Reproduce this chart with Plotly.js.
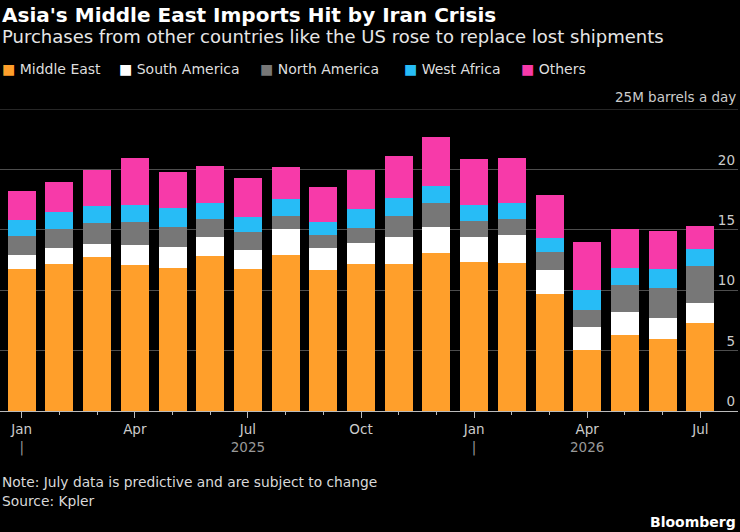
<!DOCTYPE html>
<html>
<head>
<meta charset="utf-8">
<script src="https://cdn.plot.ly/plotly-3.0.1.min.js"></script>
<style>
  html, body { margin: 0; padding: 0; background: #000; }
  #chart { width: 740px; height: 532px; }
</style>
</head>
<body>
<div id="chart"></div>
<script>
// Monthly crude imports into Asia by origin, million barrels a day
const months = ["2025-01","2025-02","2025-03","2025-04","2025-05","2025-06","2025-07","2025-08","2025-09","2025-10","2025-11","2025-12",
                "2026-01","2026-02","2026-03","2026-04","2026-05","2026-06","2026-07"];
const middleEast   = [11.74,12.15,12.73,12.07,11.85,12.84,11.74,12.92,11.68,12.15,12.18,13.09,12.37,12.24,9.67,5.08,6.32,5.94,7.27];
const southAmerica = [1.16,1.35,1.13,1.71,1.71,1.55,1.62,2.13,1.82,1.77,2.24,2.18,2.05,2.29,2.01,1.85,1.86,1.79,1.68];
const northAmerica = [1.60,1.58,1.72,1.88,1.68,1.52,1.47,1.13,1.11,1.27,1.74,1.96,1.35,1.38,1.47,1.41,2.23,2.44,3.09];
const westAfrica   = [1.35,1.43,1.43,1.43,1.55,1.27,1.27,1.41,1.07,1.57,1.51,1.39,1.32,1.27,1.21,1.71,1.46,1.62,1.36];
const others       = [2.40,2.41,2.96,3.87,3.01,3.12,3.20,2.65,2.90,3.21,3.48,4.08,3.76,3.78,3.54,3.98,3.21,3.12,1.93];

const seriesNames  = ["Middle East","South America","North America","West Africa","Others"];
const seriesColors = ["#ff9f2b","#ffffff","#777777","#27bcf6","#f73aa9"];
const seriesValues = [middleEast, southAmerica, northAmerica, westAfrica, others];

// x-axis labels (every quarter), year on a second line
const tickMonths = [0,3,6,9,12,15,18];
const tickLabels = ["Jan<br><span style='color:#999'>|</span>","Apr","Jul<br><span style='color:#999'>2025</span>","Oct",
                    "Jan<br><span style='color:#999'>|</span>","Apr<br><span style='color:#999'>2026</span>","Jul"];
const yTicks = [0,5,10,15,20];
const yTickLabels = ["0","5","10","15","20"];
const yUnitLabel = "25M barrels a day";

const FONT = "'DejaVu Sans', Roboto, sans-serif";
const xIndex = months.map((m, i) => i);

const traces = seriesValues.map((vals, k) => ({
  type: "bar",
  name: seriesNames[k],
  x: xIndex,
  y: vals,
  marker: { color: seriesColors[k], line: { width: 0 } },
  hoverinfo: "skip",
  showlegend: false
}));

// plot area spans pixel rows 109 (top) to 411 (baseline)
const TOP = 109, BASE = 411;
const py = p => (BASE - p) / (BASE - TOP);

const annotations = [
  { text: "<b>Asia's Middle East Imports Hit by Iran Crisis</b>", x: 0, y: py(15),
    font: { size: 20, color: "#ffffff", family: FONT } },
  { text: "Purchases from other countries like the US rose to replace lost shipments", x: 0, y: py(37),
    font: { size: 18, color: "#e6e6e6", family: FONT } },
  { text: yUnitLabel, x: 1, xanchor: "right", y: py(97),
    font: { size: 13.5, color: "#cccccc", family: FONT } },
  { text: "Note: July data is predictive and are subject to change", x: 0, y: py(482),
    font: { size: 13.8, color: "#d9d9d9", family: FONT } },
  { text: "Source: Kpler", x: 0, y: py(501),
    font: { size: 13.8, color: "#d9d9d9", family: FONT } },
  { text: "<b>Bloomberg</b>", x: 1, xanchor: "right", y: py(522),
    font: { size: 14, color: "#ffffff", family: FONT } }
];

// legend row: coloured swatch + series name
const legendX = [0, 117, 258, 402, 519];
seriesNames.forEach((name, k) => {
  annotations.push({
    text: "<span style='color:" + seriesColors[k] + "'>■</span> " + name,
    x: legendX[k] / 738, y: py(69),
    font: { size: 14, color: "#dedede", family: FONT }
  });
});
annotations.forEach(a => {
  a.xref = "paper"; a.yref = "paper"; a.showarrow = false;
  if (!a.xanchor) a.xanchor = "left";
  a.yanchor = "middle";
});

const layout = {
  width: 740, height: 532,
  paper_bgcolor: "#000000", plot_bgcolor: "#000000",
  margin: { l: 0, r: 2, t: TOP, b: 532 - BASE },
  barmode: "stack",
  bargap: 0.257,
  showlegend: false,
  font: { family: FONT, color: "#cccccc", size: 13.5 },
  xaxis: {
    type: "linear",
    range: [-0.576, 19.0],
    tickmode: "array",
    tickvals: tickMonths,
    ticktext: tickLabels,
    ticks: "outside", ticklen: 6, tickwidth: 1, tickcolor: "#bbbbbb",
    minor: { tickmode: "linear", tick0: 0, dtick: 1, ticks: "outside", ticklen: 3, tickwidth: 1, tickcolor: "#bbbbbb" },
    showgrid: false, zeroline: false,
    showline: true, linecolor: "#bbbbbb", linewidth: 1,
    tickfont: { size: 13.5, color: "#cccccc", family: FONT },
    fixedrange: true
  },
  yaxis: {
    side: "right",
    range: [0, 25],
    tickmode: "array",
    tickvals: yTicks,
    ticktext: yTickLabels,
    ticklabelposition: "inside top",
    ticks: "",
    showgrid: true, gridcolor: "#4d4d4d", gridwidth: 1,
    zeroline: false, showline: false,
    tickfont: { size: 13.5, color: "#cccccc", family: FONT },
    fixedrange: true
  },
  shapes: [
    // top gridline at the 25 level, where the unit label sits
    { type: "line", xref: "paper", yref: "y", x0: 0, x1: 1, y0: 25, y1: 25,
      line: { color: "#4d4d4d", width: 1 } }
  ],
  annotations: annotations
};

Plotly.newPlot("chart", traces, layout, { displayModeBar: false, staticPlot: true });
</script>
</body>
</html>
